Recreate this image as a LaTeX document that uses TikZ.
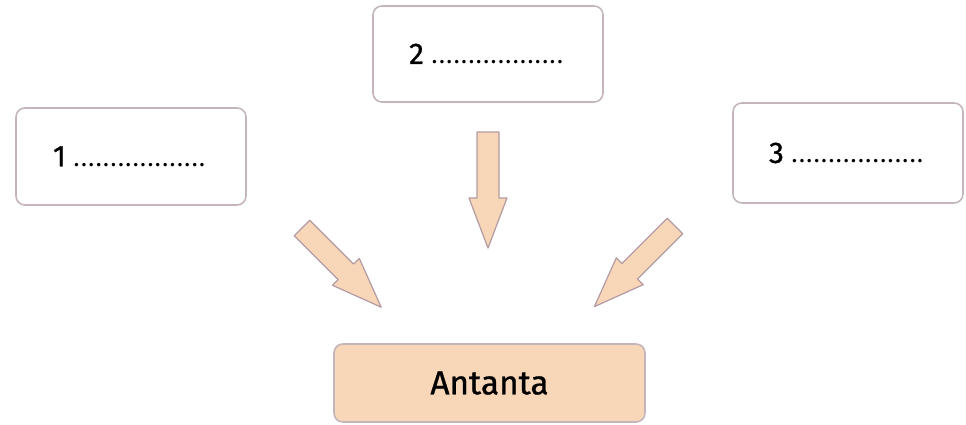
\documentclass[tikz,border=0pt]{standalone}
\usepackage{fontspec}
\setmainfont{Fira Sans}
\newfontfamily\medfont{Fira Sans}[FakeBold=0.9]

\definecolor{boxline}{HTML}{C4B4BC}
\definecolor{peach}{HTML}{F8D6B8}
\definecolor{arrowline}{HTML}{B49CA4}

\tikzset{
  box/.style={draw=boxline, line width=0.9pt, rounded corners=5pt, minimum width=4.6cm, minimum height=1.94cm, font=\fontsize{17}{20}\selectfont\medfont},
  target/.style={draw=boxline, fill=peach, line width=0.9pt, rounded corners=5pt, minimum width=6.22cm, minimum height=1.56cm, font=\fontsize{19}{22}\selectfont\medfont},
  blockarrow/.style={draw=arrowline, fill=peach, line width=0.7pt, line join=round}
}

\newcommand{\bigarrow}[4]{\filldraw[blockarrow, shift={(#1,#2)}, rotate=#3]
  (0,-11) -- (#4-50,-11) -- (#4-50,-19) -- (#4,0) -- (#4-50,19) -- (#4-50,11) -- (0,11) -- cycle;}

\newcommand{\dotline}{\hspace{4pt}{\fontsize{14}{16}\selectfont\normalfont\hbox to 2.72cm{\leaders\hbox to 4.2pt{\hss.\hss}\hfill}}}

\begin{document}
\begin{tikzpicture}[x=0.02cm, y=0.02cm]

    \useasboundingbox (0,0) rectangle (966,425);

    \node[box] (a) at (131, 268.5) {1\dotline};
    \node[box, minimum height=1.92cm] (b) at (488, 371) {2\dotline};
    \node[box, minimum height=2cm] (c) at (848, 272) {3\dotline};
    \node[target] (d) at (489.5, 42) {Antanta};

    \bigarrow{302}{197}{-45}{112}
    \bigarrow{488}{293}{-90}{116}
    \bigarrow{675}{199}{-135}{114}

\end{tikzpicture}
\end{document}
